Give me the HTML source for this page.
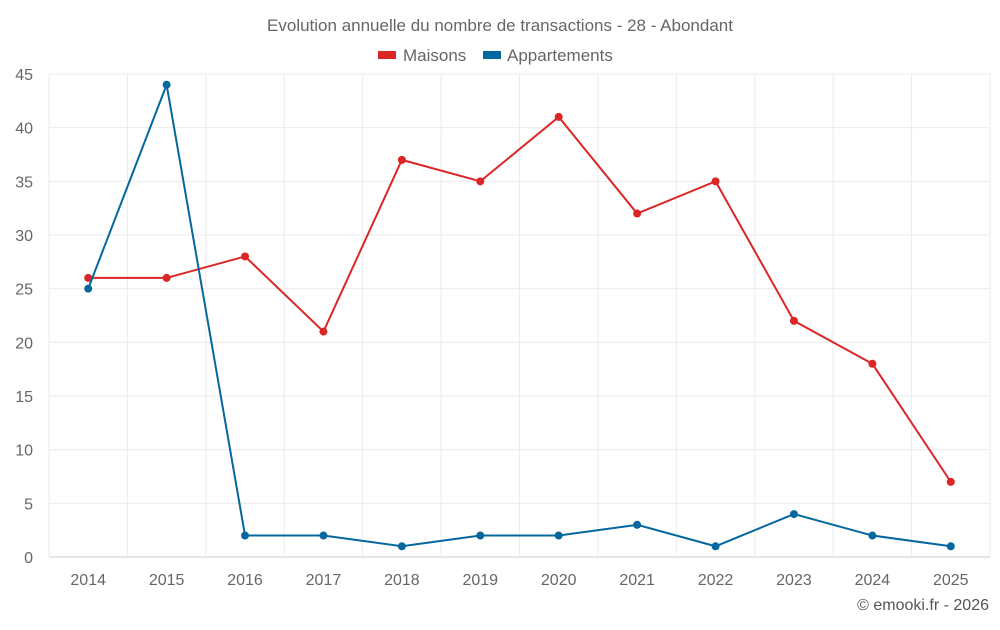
<!DOCTYPE html>
<html><head><meta charset="utf-8"><style>
body{margin:0;background:#fff;font-family:"Liberation Sans",sans-serif;}
svg text{font-family:"Liberation Sans",sans-serif;}
</style></head><body>
<svg id="chart" width="1000" height="625" xmlns="http://www.w3.org/2000/svg">
<text x="500" y="31" text-anchor="middle" font-size="17" fill="#666">Evolution annuelle du nombre de transactions - 28 - Abondant</text>
<g><rect x="378" y="51" width="18" height="8" fill="#dc2626"/><text x="403" y="61" font-size="17" fill="#666">Maisons</text></g>
<g><rect x="483" y="51" width="18" height="8" fill="#04679f"/><text x="507" y="61" font-size="17" fill="#666">Appartements</text></g>
<g id="grid"></g><g id="axes"></g><g id="series"></g>
<text x="989" y="610" text-anchor="end" font-size="16" fill="#555">© emooki.fr - 2026</text>
</svg>
<script>
const categories=["2014","2015","2016","2017","2018","2019","2020","2021","2022","2023","2024","2025"];
const maisons=[26,26,28,21,37,35,41,32,35,22,18,7];
const appartements=[25,44,2,2,1,2,2,3,1,4,2,1];
const yTicks=[0,5,10,15,20,25,30,35,40,45];
const NS="http://www.w3.org/2000/svg";
const L=49,R=990,T=74,B=557,yMax=45;
const step=(R-L)/categories.length;
const x=i=>L+step*(i+0.5);
const y=v=>B-(v/yMax)*(B-T);
function mk(tag,attrs,parent){const e=document.createElementNS(NS,tag);for(const k in attrs)e.setAttribute(k,attrs[k]);parent.appendChild(e);return e;}
const grid=document.getElementById('grid'),axes=document.getElementById('axes'),ser=document.getElementById('series');
yTicks.forEach(t=>{
 const l=mk('line',{x1:L,x2:R,y1:y(t),y2:y(t),stroke:t===0?'#ccc':'#ebebeb','stroke-width':1},grid);
 
 
 const tx=mk('text',{x:33,y:y(t)+6,'text-anchor':'end','font-size':16,fill:'#666'},axes);
 tx.textContent=t;
 
 
});
for(let i=0;i<=categories.length;i++){
 const l=mk('line',{x1:L+step*i,x2:L+step*i,y1:T,y2:B,stroke:'#ebebeb'},grid);
 
 
}
categories.forEach((c,i)=>{
 const tx=mk('text',{x:x(i),y:585,'text-anchor':'middle','font-size':16,fill:'#666'},axes);
 tx.textContent=c;
 
 
});
function drawSeries(vals,color,name){
 const p=mk('polyline',{points:vals.map((v,i)=>x(i)+','+y(v)).join(' '),fill:'none',stroke:color,'stroke-width':2},ser);
 
 
 vals.forEach((v,i)=>{
  const c=mk('circle',{cx:x(i),cy:y(v),r:4,fill:color},ser);
  
  
 });
}
drawSeries(maisons,'#dc2626','maisons');
drawSeries(appartements,'#04679f','appartements');
</script>
</body></html>
